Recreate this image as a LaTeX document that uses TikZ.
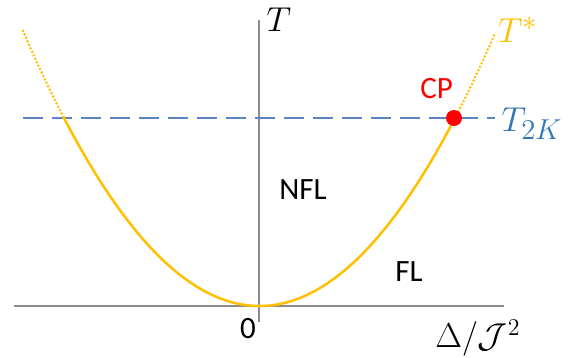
\documentclass[tikz,border=0pt]{standalone}
\usepackage{fontspec}
\usetikzlibrary{positioning}
\newfontfamily\calibri{Carlito}
\definecolor{gold}{HTML}{FFC000}
\definecolor{linkblue}{HTML}{5B84C4}
\definecolor{labelblue}{HTML}{2E75B6}
\definecolor{axisgray}{HTML}{8C8C8C}

\begin{document}
\begin{tikzpicture}[x=0.5pt, y=-0.5pt,
    axis/.style={draw=axisgray, line width=0.75pt},
    curve/.style={draw=gold, line width=1.25pt},
    dotcurve/.style={curve, line width=1.4pt, line cap=round, dash pattern=on 0pt off 1.9pt},
    tline/.style={draw=linkblue, line width=1pt, dash pattern=on 10pt off 4.5pt},
    region/.style={font=\calibri\fontsize{15.5}{18}\selectfont},
    tlabel/.style={font=\fontsize{19}{22}\selectfont}]
    \useasboundingbox (0,0) rectangle (573,358);

    % --- axes ---
    \coordinate (ybot) at (259,322);
    \coordinate (ytop) at (259,20);
    \coordinate (xleft) at (14,306);
    \coordinate (xright) at (504,306);
    \draw[axis] (ybot) -- (ytop);
    \draw[axis] (xleft) -- (xright);
    \node[tlabel] (tax) at (279,20) {$T$};
    \node[region] (zero) at (248,329) {0};
    \node[font=\fontsize{17}{20}\selectfont] (xlab) at (478,338) {$\Delta/\mathcal{J}^2$};

    % --- T_2K line ---
    \coordinate (tl) at (23,118);
    \coordinate (tr) at (495,118);
    \draw[tline] (tl) -- (tr);
    \node[tlabel, text=labelblue] (t2k) at (532,124) {$T_{2K}$};

    % --- crossover T* ---
    \draw[dotcurve] plot[domain=23:63, samples=20] (\x, {306-188*((\x-259.5)/195.5)^2});
    \draw[curve] plot[domain=63:455, samples=120, smooth] (\x, {306-188*((\x-259.5)/195.5)^2});
    \draw[dotcurve] plot[domain=455:495, samples=20] (\x, {306-188*((\x-259.5)/195.5)^2});
    \node[tlabel, text=gold] (tstar) at (518,30) {$T^*$};

    % --- critical point ---
    \node[circle, fill=red, inner sep=0pt, minimum size=8pt] (cp) at (454,118) {};
    \node[region, text=red, above left=3pt and -6pt of cp] (cplab) {CP};

    % --- phases ---
    \node[region] (nfl) at (303,190) {NFL};
    \node[region] (fl) at (409,272) {FL};
\end{tikzpicture}
\end{document}
